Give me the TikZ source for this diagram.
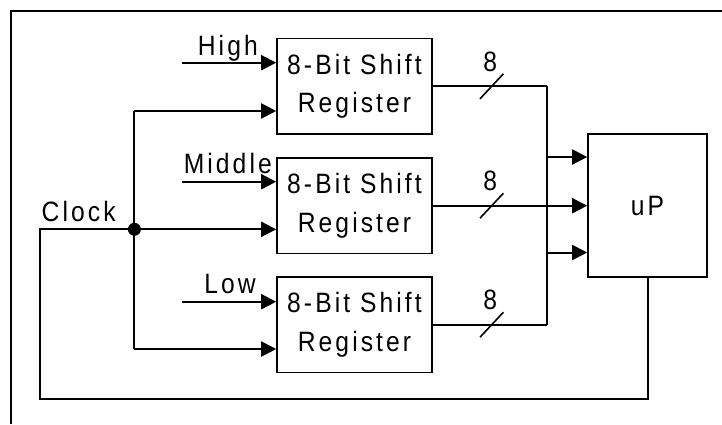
\documentclass[tikz,border=0pt]{standalone}
\usepackage{fontspec}
\setmainfont{Liberation Sans}[LetterSpace=11,FakeStretch=0.88]
\usetikzlibrary{arrows.meta}
\tikzset{
  wire/.style={line width=2pt},
  arr/.style={wire,-{Triangle[length=15pt,width=15pt]}},
  blk/.style={draw,line width=1.6pt,minimum width=155pt,minimum height=95.5pt,inner sep=0pt,align=center,font=\fontsize{28}{38.3}\selectfont},
  lbl/.style={inner sep=0pt,font=\fontsize{28}{30}\selectfont},
  slash/.style={line width=1.6pt}
}
\begin{document}
\begin{tikzpicture}[x=1pt,y=-1pt]
\useasboundingbox (0,0) rectangle (722,424);
% frame
\draw[line width=2.4pt] (11,424) -- (11,11) -- (722,11);
% blocks
\node[blk] (r1) at (354.5,86.3) {8-Bit Shift\\Register};
\node[blk] (r2) at (354.5,205.7) {8-Bit Shift\\Register};
\node[blk] (r3) at (354.5,324.7) {8-Bit Shift\\Register};
\node[draw,line width=1.6pt,minimum width=119pt,minimum height=143pt,inner sep=0pt,font=\fontsize{28}{30}\selectfont] (up) at (647.5,205.5) {uP};
% data inputs
\coordinate (hi) at (182,62.7);
\coordinate (mi) at (182,181.7);
\coordinate (lo) at (182,301.7);
\draw[arr] (hi) -- (r1.west |- hi);
\draw[arr] (mi) -- (r2.west |- mi);
\draw[arr] (lo) -- (r3.west |- lo);
\node[lbl,anchor=base east] (thi) at (258,55) {High};
\node[lbl,anchor=base east] (tmi) at (272,173) {Middle};
\node[lbl,anchor=base east] (tlo) at (256,293.3) {Low};
% clock
\coordinate (clk) at (134.4,229.3);
\coordinate (ct) at (134.4,111);
\coordinate (cb) at (134.4,349);
\draw[wire] (ct) -- (cb);
\draw[arr] (ct) -- (r1.west |- ct);
\draw[arr] (clk) -- (r2.west |- clk);
\draw[arr] (cb) -- (r3.west |- cb);
\fill (clk) circle (6.5pt);
\coordinate (fb) at (39.5,398.7);
\draw[wire] (up.south) |- (fb) |- (clk);
\node[lbl,anchor=base west] (tclk) at (41.5,221.7) {Clock};
% outputs
\coordinate (u1) at ([yshift=-47pt]up.west);
\coordinate (u3) at ([yshift=48.5pt]up.west);
\coordinate (j1) at (546.5,86.3);
\coordinate (j3) at (546.5,324.7);
\draw[wire] (r1.east) -- (j1);
\draw[arr] (j1) |- (u1);
\draw[arr] (r2.east) -- (r2.east -| up.west);
\draw[wire] (r3.east) -- (j3);
\draw[arr] (j3) |- (u3);
% bus slashes and widths
\foreach \n/\y in {a/86.3,b/205.7,c/324.7}{
  \coordinate (s\n) at (491.7,\y);
  \draw[slash] ([shift={(-11.7,12.5)}]s\n) -- ([shift={(11.7,-12.5)}]s\n);
  \node[lbl,anchor=base] (w\n) at ([shift={(-1.5,-15)}]s\n) {8};
}
\end{tikzpicture}
\end{document}
